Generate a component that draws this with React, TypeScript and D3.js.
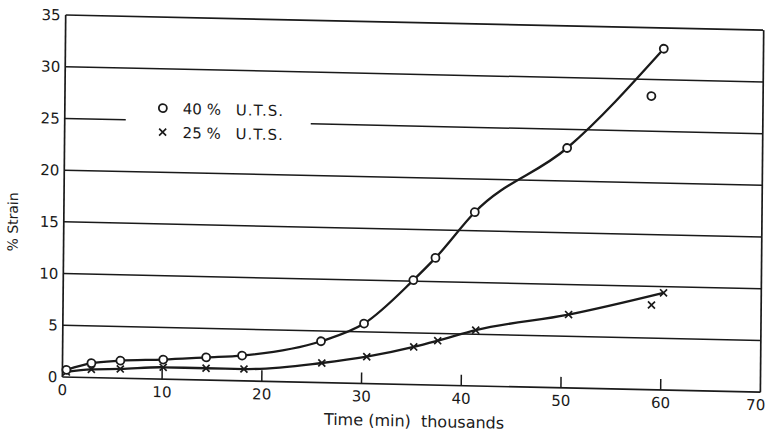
import * as d3 from "d3";
import { useEffect, useRef } from "react";

// 40 % U.T.S. (circles)
const time40 = [0.4, 2.9, 5.8, 10.1, 14.4, 18.0, 25.9, 30.2, 35.1, 37.3, 41.2, 50.4, 58.8, 60.0];
const strain40 = [0.7, 1.4, 1.7, 1.9, 2.2, 2.45, 4.0, 5.8, 10.1, 12.3, 16.8, 23.2, 28.4, 33.0];
// 25 % U.T.S. (crosses)
const time25 = [0.4, 2.9, 5.8, 10.1, 14.4, 18.2, 26.0, 30.5, 35.2, 37.6, 41.4, 50.7, 59.0, 60.2];
const strain25 = [0.5, 0.8, 0.9, 1.15, 1.15, 1.15, 1.9, 2.6, 3.65, 4.3, 5.4, 7.1, 8.2, 9.4];
// points that the hand drawn curve does not pass through
const offCurve40 = [58.8];
const offCurve25 = [59.0];

const yTicks = [0, 5, 10, 15, 20, 25, 30, 35];
const xTicks = [0, 10, 20, 30, 40, 50, 60, 70];
const legendStress = ["40 %", "25 %"];
const legendUnit = "U.T.S.";
const xTitle = "Time (min)  thousands";
const yTitle = "% Strain";

const W = 766;
const H = 432;
const plotW = 698;
const plotH = 362;
const font = "'DejaVu Sans', sans-serif";
const ink = "#1a1a1a";

export default function App() {
  const ref = useRef<SVGSVGElement>(null);

  useEffect(() => {
    const svg = d3.select(ref.current);
    svg.selectAll("*").remove();

    const x = d3.scaleLinear().domain([0, 70]).range([0, plotW]);
    const y = d3.scaleLinear().domain([0, 35]).range([plotH, 0]);

    // the scanned page is slightly skewed
    const g = svg
      .append("g")
      .attr("transform", "translate(65.7,15) matrix(1,0.0218,-0.0092,1,0,0)");

    // horizontal rules, the 25 one is broken for the legend
    yTicks.forEach((t) => {
      const segs = t === 25 ? [[0, 61], [246, plotW]] : [[0, plotW]];
      segs.forEach(([a, b]) => {
        g.append("line")
          .attr("x1", a)
          .attr("x2", b)
          .attr("y1", y(t))
          .attr("y2", y(t))
          .attr("stroke", ink)
          .attr("stroke-width", t === 0 || t === 35 ? 1.7 : 1.5);
      });
    });
    // left and right frame
    [0, 70].forEach((v) => {
      g.append("line")
        .attr("x1", x(v))
        .attr("x2", x(v))
        .attr("y1", y(0))
        .attr("y2", y(35))
        .attr("stroke", ink)
        .attr("stroke-width", 1.7);
    });

    // x ticks point up into the plot
    xTicks.slice(1, -1).forEach((t) => {
      g.append("line")
        .attr("x1", x(t))
        .attr("x2", x(t))
        .attr("y1", y(0))
        .attr("y2", y(0) - 11)
        .attr("stroke", ink)
        .attr("stroke-width", 1.5);
    });

    g.selectAll(".xlab")
      .data(xTicks)
      .join("text")
      .attr("x", (d) => (d === 70 ? x(d) + 5 : x(d)))
      .attr("y", y(0) + 18)
      .attr("text-anchor", (d) => (d === 70 ? "end" : "middle"))
      .attr("font-family", font)
      .attr("font-size", 15)
      .attr("fill", ink)
      .text((d) => d);

    g.selectAll(".ylab")
      .data(yTicks)
      .join("text")
      .attr("x", -5)
      .attr("y", (d) => y(d))
      .attr("dy", "0.36em")
      .attr("text-anchor", "end")
      .attr("font-family", font)
      .attr("font-size", 15)
      .attr("fill", ink)
      .text((d) => d);

    g.append("text")
      .attr("x", x(35) + 3)
      .attr("y", plotH + 42)
      .attr("text-anchor", "middle")
      .attr("font-family", font)
      .attr("font-size", 16)
      .attr("fill", ink)
      .style("white-space", "pre")
      .text(xTitle);

    g.append("text")
      .attr("transform", "translate(-46,208) rotate(-90)")
      .attr("text-anchor", "middle")
      .attr("font-family", font)
      .attr("font-size", 14)
      .attr("fill", ink)
      .text(yTitle);

    const pts40 = time40.map((t, i) => [t, strain40[i]] as [number, number]);
    const pts25 = time25.map((t, i) => [t, strain25[i]] as [number, number]);

    const line = d3
      .line<[number, number]>()
      .x((d) => x(d[0]))
      .y((d) => y(d[1]))
      .curve(d3.curveMonotoneX);

    g.append("path")
      .datum(pts40.filter((d) => !offCurve40.includes(d[0])))
      .attr("fill", "none")
      .attr("stroke", ink)
      .attr("stroke-width", 2.3)
      .attr("d", line);

    g.append("path")
      .datum(pts25.filter((d) => !offCurve25.includes(d[0])))
      .attr("fill", "none")
      .attr("stroke", ink)
      .attr("stroke-width", 2.3)
      .attr("d", line);

    const circle = (sel: any, cx: number, cy: number) =>
      sel
        .append("circle")
        .attr("cx", cx)
        .attr("cy", cy)
        .attr("r", 4)
        .attr("fill", "#fff")
        .attr("stroke", ink)
        .attr("stroke-width", 1.8);

    const cross = (sel: any, cx: number, cy: number) =>
      sel
        .append("path")
        .attr("d", `M${cx - 3.5},${cy - 3.5}L${cx + 3.5},${cy + 3.5}M${cx - 3.5},${cy + 3.5}L${cx + 3.5},${cy - 3.5}`)
        .attr("stroke", ink)
        .attr("stroke-width", 1.7);

    pts25.forEach((d) => cross(g, x(d[0]), y(d[1])));
    pts40.forEach((d) => circle(g, x(d[0]), y(d[1])));

    // legend
    const leg = g.append("g").attr("transform", "translate(98,91)");
    circle(leg, 0, 0);
    cross(leg, 0, 24);
    legendStress.forEach((l, i) => {
      const t = leg
        .append("text")
        .attr("y", i * 24)
        .attr("dy", "0.36em")
        .attr("font-family", font)
        .attr("font-size", 15)
        .attr("fill", ink);
      t.append("tspan").attr("x", 20).text(l);
      t.append("tspan").attr("x", 73).attr("letter-spacing", 1).text(legendUnit);
    });
  }, []);

  return (
    <svg
      ref={ref}
      width={W}
      height={H}
      style={{ position: "absolute", left: 0, top: 0, background: "#fff" }}
    ></svg>
  );
}
